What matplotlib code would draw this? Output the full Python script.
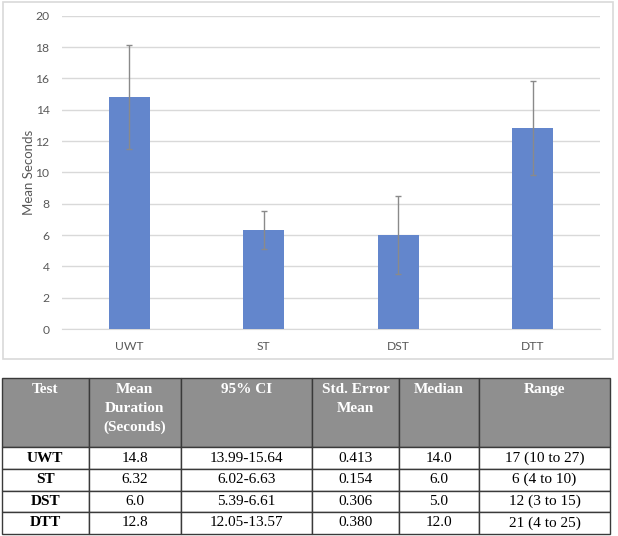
import matplotlib.pyplot as plt
from matplotlib.patches import Rectangle

# chart data
tests = ["UWT", "ST", "DST", "DTT"]
means = [14.8, 6.32, 6.0, 12.8]
err = [3.3, 1.2, 2.5, 3.0]
y_ticks = list(range(0, 21, 2))

# table data
headers = ["Test", "Mean\nDuration\n(Seconds)", "95% CI", "Std. Error\nMean", "Median", "Range"]
mean_txt = ["14.8", "6.32", "6.0", "12.8"]
ci = ["13.99-15.64", "6.02-6.63", "5.39-6.61", "12.05-13.57"]
se = ["0.413", "0.154", "0.306", "0.380"]
medians = ["14.0", "6.0", "5.0", "12.0"]
ranges = ["17 (10 to 27)", "6 (4 to 10)", "12 (3 to 15)", "21 (4 to 25)"]

W, H = 618, 536
fig = plt.figure(figsize=(W / 100, H / 100), dpi=100)

# light border around the chart
fig.patches.append(Rectangle((3 / W, 1 - 359 / H), 610 / W, 357 / H,
                             transform=fig.transFigure, fill=False,
                             edgecolor="#d9d9d9", lw=1.2))

ax = fig.add_axes([62 / W, 1 - 329 / H, 538 / W, 313.3 / H])
ax.bar(range(len(tests)), means, width=0.305, color="#6386cc", zorder=3,
       yerr=err, error_kw=dict(ecolor="#8a8a8a", elinewidth=1, capsize=2.3, capthick=1))
ax.set_xlim(-0.5, 3.5)
ax.set_ylim(0, 20)
ax.set_yticks(y_ticks)
ax.set_xticks(range(len(tests)))
ax.set_xticklabels(tests)
ax.yaxis.grid(True, color="#d9d9d9", lw=1, zorder=0)
for s in ["top", "right", "left"]:
    ax.spines[s].set_visible(False)
ax.spines["bottom"].set_color("#d9d9d9")
ax.tick_params(length=0, labelsize=8.7, labelcolor="#595959")
ax.tick_params(axis="y", pad=9)
ax.tick_params(axis="x", pad=9)
for lab in ax.get_xticklabels() + ax.get_yticklabels():
    lab.set_family("Lato")
ax.set_ylabel("Mean Seconds", fontsize=9.5, color="#595959", family="Lato", labelpad=0)

# table below the chart
tax = fig.add_axes([2 / W, 1 - 533.7 / H, 608 / W, 155.4 / H])
tax.axis("off")
rows = [list(r) for r in zip(tests, mean_txt, ci, se, medians, ranges)]
col_w = [86.5, 92.1, 131.6, 86.8, 80, 131]
tbl = tax.table(cellText=rows, colLabels=[""] * len(headers), colWidths=col_w,
                cellLoc="center", bbox=[0, 0, 1, 1])
tbl.auto_set_font_size(False)
for (r, c), cell in tbl.get_celld().items():
    cell.set_edgecolor("#3a3a3a")
    cell.set_linewidth(1)
    txt = cell.get_text()
    txt.set_family("Liberation Serif")
    txt.set_fontsize(11)
    if r == 0:
        cell.set_height(69)
        cell.set_facecolor("#8f8f8f")
    else:
        cell.set_height(21.6)
        if c == 0:
            txt.set_fontweight("bold")

# header text is top aligned, so place it after the table has its layout
fig.canvas.draw()
cells = tbl.get_celld()
for c, h in enumerate(headers):
    cell = cells[(0, c)]
    tax.text(cell.get_x() + cell.get_width() / 2, 1 - 4.5 / 155.4, h,
             ha="center", va="top", color="white", fontweight="bold",
             fontsize=11, family="Liberation Serif", linespacing=1.58)

fig.savefig("out.png", dpi=100)
